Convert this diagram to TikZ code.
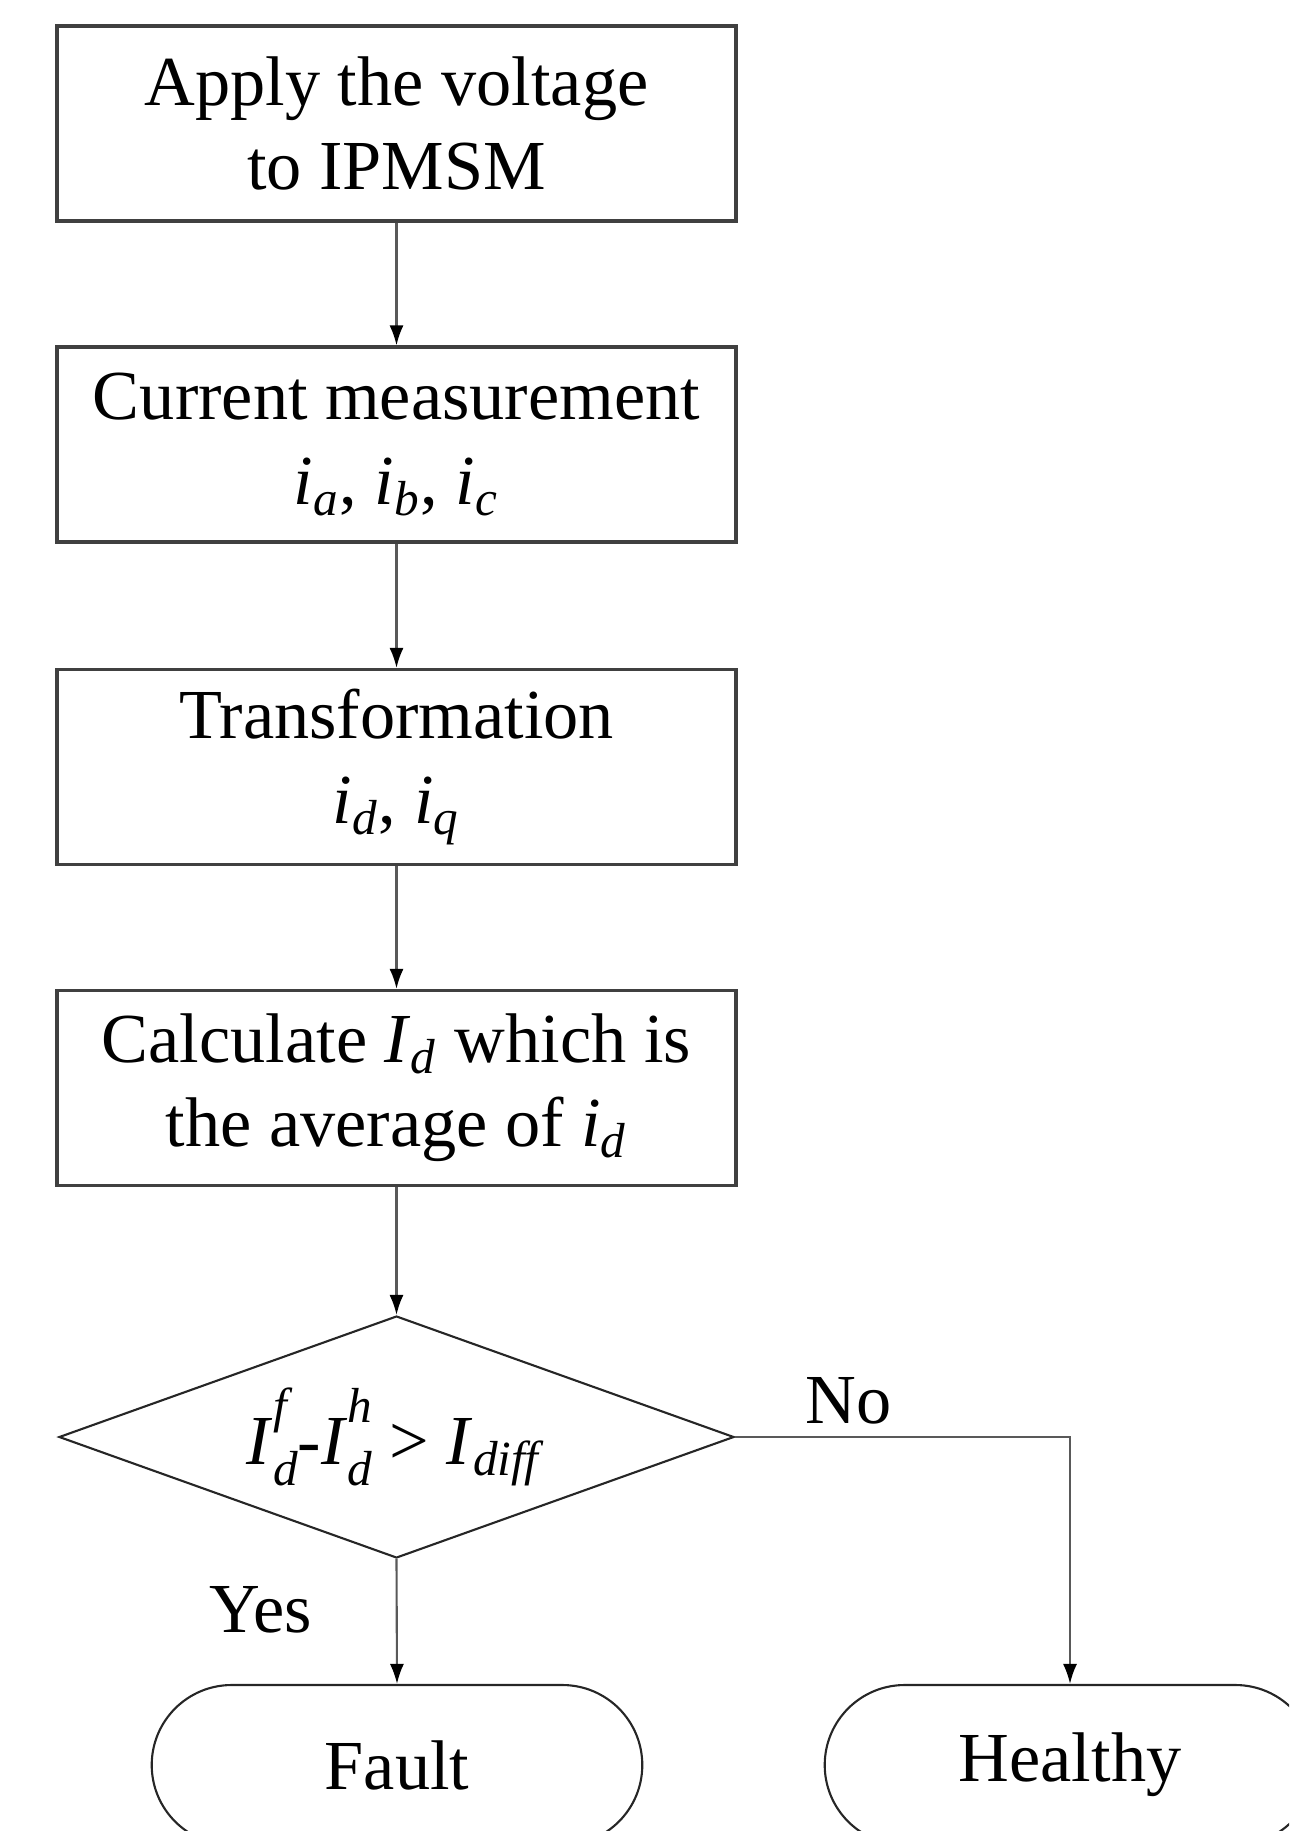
\documentclass[tikz,border=0pt]{standalone}
\usepackage{fontspec}
\setmainfont{Liberation Serif}
\usetikzlibrary{positioning,arrows.meta,shapes.geometric,shapes.misc}

\newcommand{\isub}[1]{\textit{i}\textsubscript{\textit{#1}}}
\newcommand{\Isub}[1]{\textit{I}\textsubscript{\textit{#1}}}
\newcommand{\Isupsub}[2]{\textit{I}\rlap{\raisebox{0.6em}{\fontsize{14}{14}\selectfont\textit{#1}}}%
  \raisebox{-0.3em}{\fontsize{14}{14}\selectfont\textit{#2}}}

\begin{document}
\begin{tikzpicture}[
  every node/.style={font=\fontsize{20}{24}\selectfont},
  proc/.style ={draw=black!75, line width=0.9pt,
                minimum width=6.79cm, minimum height=1.95cm,
                align=center, inner sep=0pt},
  dec/.style  ={draw=black!85, diamond, aspect=2.8, line width=0.6pt,
                minimum width=6.75cm, minimum height=2.42cm, inner sep=0pt},
  term/.style ={draw=black!85, rounded rectangle, line width=0.6pt,
                minimum width=5.14cm, minimum height=1.6cm},
  arr/.style  ={-{Latex[length=2mm,width=1.4mm,color=black]},
                draw=black!65, line width=0.6pt}]

\clip (0,0) rectangle (12.89,-18.31);

%% Process boxes down the middle
\node[proc] (apply) at (3.965, -1.235) {Apply the voltage\\to IPMSM};
\node[proc] (meas)  at (3.965, -4.445) {Current measurement\\\isub{a}, \isub{b}, \isub{c}};
\node[proc] (trans) at (3.965, -7.67)  {Transformation\\\isub{d}, \isub{q}};
\node[proc] (avg)   at (3.965,-10.88)  {Calculate \Isub{d} which is\\the average of \isub{d}};

%% Decision
\node[dec] (check) at (3.965,-14.37) {\Isupsub{f}{d}-\Isupsub{h}{d} > \Isub{diff}};

%% Terminals (cut off at the bottom)
\node[term] (fault)   at ( 3.97,-17.65) {Fault};
\node[term] (healthy) at (10.70,-17.65) {Healthy};

%% Arrows between the boxes
\draw[arr] (apply) -- (meas);
\draw[arr] (meas)  -- (trans);
\draw[arr] (trans) -- (avg);
\draw[arr] (avg)   -- (check);

%% Yes branch: straight down
\draw[arr] (check.south) --
    node[pos=0.41, left=7.2mm]{Yes}
    (fault.north);

%% No branch: right then down
\draw[arr] (check.east) -|
    node[pos=0.17, above]{No}
    (healthy.north);
\end{tikzpicture}
\end{document}
